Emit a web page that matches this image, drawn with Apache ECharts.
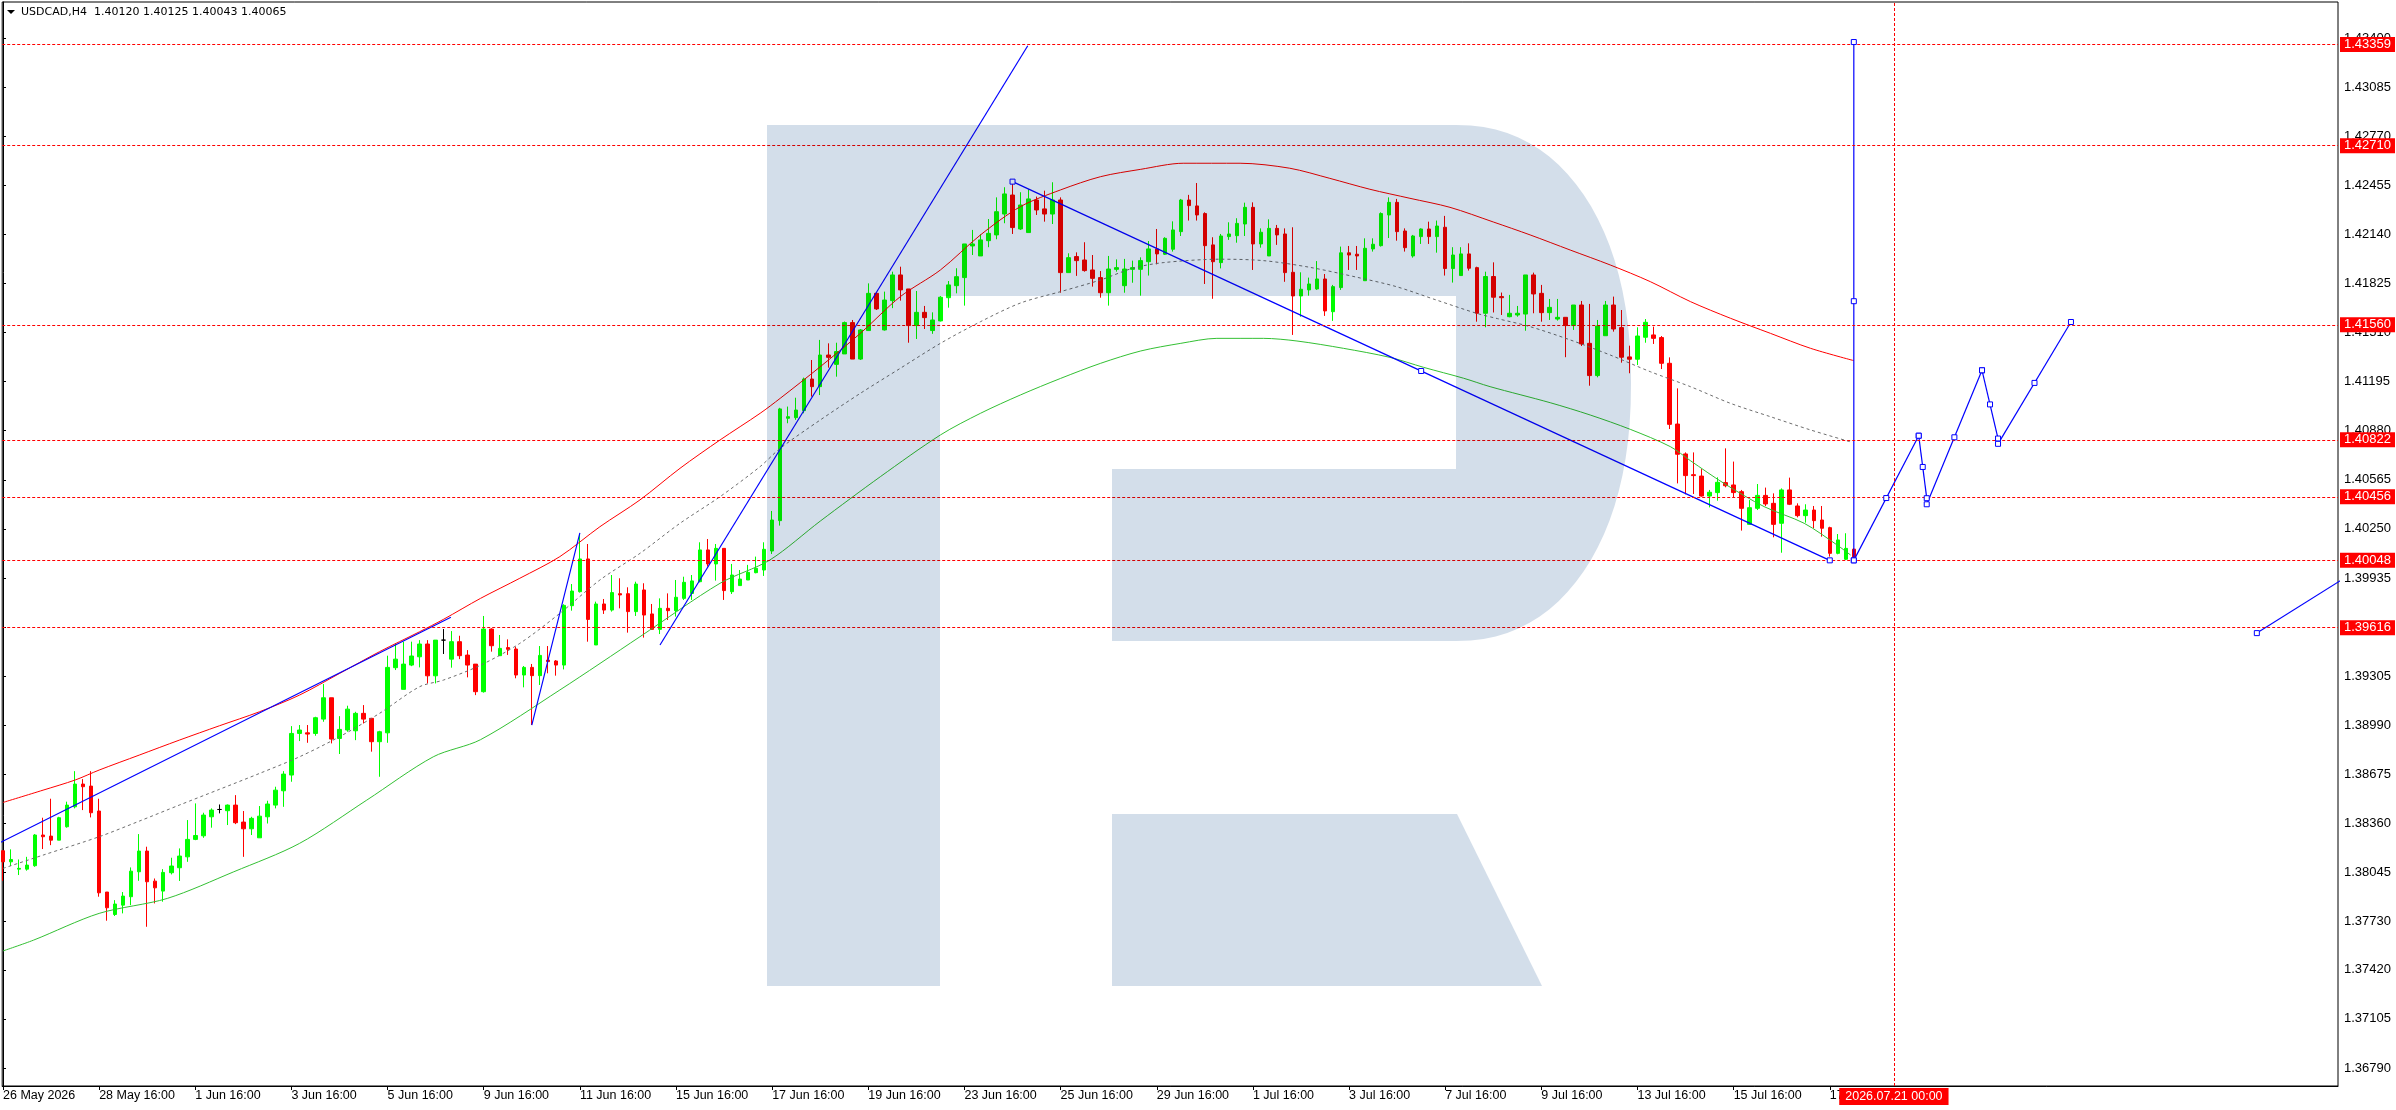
<!DOCTYPE html>
<html>
<head>
<meta charset="utf-8">
<title>USDCAD,H4</title>
<script src="https://cdn.jsdelivr.net/npm/echarts@6.0.0/dist/echarts.min.js"></script>
<style>
html, body { margin: 0; padding: 0; background: #fff; }
#chart { width: 2396px; height: 1110px; }
</style>
</head>
<body>
<div id="chart"></div>
<script>
// ---- data (H4 bars, index 0 = 26 May 16:00) ----
var symbolName = 'USDCAD,H4';

var opens = [
1.38184,1.38113,1.38066,1.38066,1.38088,1.38285,1.38278,1.38252,1.38338,1.38466,
1.38612,1.38599,1.38439,1.37919,1.37775,1.37835,1.37889,1.38049,1.38182,1.37989,
1.37925,1.38043,1.38075,1.38145,1.38257,1.38280,1.38402,1.38449,1.38441,1.38477,
1.38368,1.38325,1.38267,1.38402,1.38477,1.38569,1.38670,1.38937,1.38941,1.38937,
1.39029,1.39166,1.38905,1.38959,1.38954,1.39066,1.39034,1.38884,1.38941,1.39359,
1.39220,1.39376,1.39429,1.39511,1.39307,1.39536,1.39414,1.39526,1.39440,1.39382,
1.39205,1.39607,1.39436,1.39488,1.39479,1.39312,1.39361,1.39308,1.39408,1.39402,
1.39376,1.39757,1.39847,1.40057,1.39505,1.39768,1.39729,1.39834,1.39834,1.39719,
1.39858,1.39704,1.39605,1.39740,1.39725,1.39804,1.39836,1.39911,1.40115,1.40025,
1.40125,1.39847,1.39886,1.39922,1.39969,1.39986,1.40108,1.40303,1.40960,1.40964,
1.41009,1.41212,1.41163,1.41366,1.41306,1.41373,1.41574,1.41340,1.41523,1.41762,
1.41527,1.41715,1.41880,1.41790,1.41555,1.41640,1.41523,1.41585,1.41734,1.41811,
1.41863,1.42066,1.42002,1.42100,1.42137,1.42271,1.42393,1.42175,1.42152,1.42361,
1.42304,1.42271,1.42361,1.41895,1.41998,1.41976,1.41912,1.41863,1.41766,1.41916,
1.41811,1.41916,1.41916,1.41965,1.42047,1.42013,1.42045,1.42158,1.42361,1.42323,
1.42274,1.42073,1.41959,1.42126,1.42132,1.42207,1.42314,1.42079,1.42002,1.42179,
1.42143,1.41897,1.41745,1.41784,1.41790,1.41854,1.41644,1.41799,1.42022,1.42013,
1.41843,1.42047,1.42068,1.42265,1.42346,1.42162,1.42002,1.42126,1.42175,1.42126,
1.42186,1.41921,1.41876,1.42015,1.41927,1.41634,1.41870,1.41741,1.41612,1.41623,
1.41629,1.41880,1.41762,1.41638,1.41597,1.41608,1.41555,1.41687,1.41441,1.41234,
1.41490,1.41687,1.41542,1.41354,1.41339,1.41480,1.41495,1.41478,1.41313,1.40923,
1.40731,1.40598,1.40589,1.40461,1.40483,1.40547,1.40532,1.40489,1.40279,1.40382,
1.40465,1.40414,1.40286,1.40500,1.40397,1.40335,1.40371,1.40307,1.40258,1.40093,
1.40055,1.40120
];
var highs = [
1.38188,1.38193,1.38128,1.38145,1.38291,1.38396,1.38518,1.38402,1.38499,1.38695,
1.38644,1.38695,1.38518,1.37919,1.37867,1.37919,1.38077,1.38291,1.38210,1.38006,
1.38066,1.38139,1.38199,1.38381,1.38488,1.38428,1.38456,1.38481,1.38481,1.38541,
1.38439,1.38402,1.38471,1.38505,1.38595,1.38695,1.38984,1.38991,1.38991,1.39044,
1.39254,1.39166,1.39048,1.39115,1.39076,1.39119,1.39034,1.38954,1.39436,1.39515,
1.39526,1.39526,1.39536,1.39536,1.39536,1.39607,1.39594,1.39564,1.39472,1.39382,
1.39691,1.39612,1.39569,1.39541,1.39494,1.39370,1.39383,1.39498,1.39498,1.39408,
1.39766,1.39896,1.40217,1.40153,1.39783,1.39800,1.39954,1.39933,1.39875,1.39911,
1.39901,1.39768,1.39804,1.39836,1.39922,1.39943,1.39954,1.40164,1.40185,1.40153,
1.40125,1.40025,1.39986,1.40019,1.40072,1.40164,1.40365,1.41027,1.41035,1.41092,
1.41221,1.41334,1.41463,1.41441,1.41445,1.41581,1.41591,1.41533,1.41826,1.41766,
1.41773,1.41901,1.41933,1.41790,1.41777,1.41681,1.41640,1.41745,1.41841,1.41923,
1.42079,1.42169,1.42141,1.42239,1.42378,1.42443,1.42479,1.42411,1.42430,1.42383,
1.42421,1.42475,1.42378,1.42019,1.42025,1.42090,1.42008,1.41905,1.42002,1.41980,
1.41983,1.41972,1.41993,1.42098,1.42175,1.42122,1.42224,1.42368,1.42394,1.42470,
1.42282,1.42122,1.42143,1.42218,1.42244,1.42344,1.42346,1.42179,1.42237,1.42201,
1.42179,1.42186,1.41897,1.41863,1.41969,1.41886,1.41816,1.42062,1.42066,1.42066,
1.42115,1.42115,1.42282,1.42378,1.42368,1.42179,1.42137,1.42179,1.42222,1.42229,
1.42259,1.42058,1.42058,1.42083,1.41933,1.41901,1.41961,1.41767,1.41752,1.41681,
1.41880,1.41895,1.41816,1.41726,1.41726,1.41608,1.41687,1.41713,1.41694,1.41591,
1.41713,1.41741,1.41655,1.41426,1.41544,1.41597,1.41548,1.41488,1.41351,1.41152,
1.40741,1.40741,1.40634,1.40500,1.40581,1.40767,1.40682,1.40500,1.40435,1.40538,
1.40515,1.40478,1.40510,1.40579,1.40414,1.40408,1.40397,1.40397,1.40264,1.40217,
1.40222,1.40125
];
var lows = [
1.37991,1.38086,1.38028,1.38056,1.38081,1.38195,1.38220,1.38252,1.38332,1.38456,
1.38445,1.38398,1.37889,1.37735,1.37765,1.37782,1.37835,1.37991,1.37696,1.37846,
1.37857,1.38032,1.37990,1.38113,1.38252,1.38267,1.38332,1.38424,1.38349,1.38355,
1.38145,1.38285,1.38267,1.38359,1.38456,1.38466,1.38627,1.38888,1.38877,1.38922,
1.39012,1.38873,1.38805,1.38948,1.38894,1.39001,1.38820,1.38659,1.38877,1.39344,
1.39220,1.39369,1.39361,1.39258,1.39258,1.39447,1.39359,1.39414,1.39297,1.39183,
1.39199,1.39462,1.39436,1.39441,1.39291,1.39233,1.38991,1.39248,1.39323,1.39308,
1.39348,1.39725,1.39841,1.39526,1.39505,1.39704,1.39719,1.39740,1.39584,1.39691,
1.39552,1.39601,1.39575,1.39665,1.39687,1.39794,1.39794,1.39907,1.40008,1.39918,
1.39794,1.39832,1.39886,1.39922,1.39965,1.39948,1.40089,1.40271,1.40928,1.40950,
1.40992,1.41099,1.41109,1.41285,1.41227,1.41373,1.41340,1.41334,1.41523,1.41655,
1.41523,1.41667,1.41715,1.41445,1.41469,1.41533,1.41502,1.41581,1.41670,1.41762,
1.41683,1.42008,1.42002,1.42058,1.42109,1.42212,1.42143,1.42169,1.42152,1.42265,
1.42222,1.42207,1.41766,1.41895,1.41874,1.41901,1.41805,1.41734,1.41683,1.41901,
1.41766,1.41830,1.41747,1.41876,1.41948,1.42008,1.42030,1.42130,1.42229,1.42229,
1.41822,1.41727,1.41922,1.42105,1.42087,1.42130,1.41912,1.42055,1.42002,1.42073,
1.41836,1.41495,1.41612,1.41747,1.41784,1.41617,1.41585,1.41784,1.41912,1.41912,
1.41843,1.42030,1.42062,1.42117,1.42100,1.42030,1.41991,1.42079,1.42079,1.42023,
1.41876,1.41831,1.41876,1.41908,1.41580,1.41544,1.41639,1.41623,1.41608,1.41612,
1.41522,1.41634,1.41580,1.41591,1.41587,1.41352,1.41527,1.41424,1.41169,1.41223,
1.41490,1.41516,1.41317,1.41249,1.41302,1.41445,1.41437,1.41276,1.40891,1.40542,
1.40472,1.40474,1.40457,1.40388,1.40431,1.40517,1.40453,1.40239,1.40275,1.40371,
1.40397,1.40196,1.40097,1.40403,1.40324,1.40290,1.40254,1.40200,1.40072,1.40087,
1.40050,1.40043
];
var closes = [
1.38113,1.38128,1.38071,1.38092,1.38285,1.38274,1.38252,1.38396,1.38477,1.38612,
1.38595,1.38428,1.37914,1.37818,1.37842,1.37893,1.38053,1.38182,1.37985,1.37946,
1.38045,1.38086,1.38150,1.38257,1.38282,1.38413,1.38445,1.38449,1.38477,1.38364,
1.38325,1.38392,1.38406,1.38484,1.38573,1.38676,1.38937,1.38959,1.38933,1.39038,
1.39166,1.38901,1.38963,1.39093,1.39066,1.39029,1.38884,1.38948,1.39361,1.39414,
1.39382,1.39434,1.39511,1.39307,1.39536,1.39536,1.39526,1.39436,1.39376,1.39205,
1.39607,1.39500,1.39483,1.39477,1.39312,1.39361,1.39308,1.39438,1.39398,1.39376,
1.39759,1.39851,1.40057,1.39669,1.39768,1.39729,1.39841,1.39826,1.39719,1.39896,
1.39697,1.39605,1.39740,1.39725,1.39811,1.39907,1.39916,1.40115,1.40025,1.40125,
1.39854,1.39954,1.39928,1.39971,1.39997,1.40119,1.40307,1.41020,1.40970,1.41013,
1.41212,1.41163,1.41366,1.41351,1.41388,1.41574,1.41340,1.41527,1.41762,1.41662,
1.41719,1.41880,1.41784,1.41555,1.41640,1.41606,1.41591,1.41737,1.41816,1.41869,
1.42079,1.42079,1.42105,1.42147,1.42286,1.42400,1.42184,1.42329,1.42368,1.42297,
1.42271,1.42361,1.41895,1.41991,1.41972,1.41908,1.41858,1.41766,1.41918,1.41927,
1.41918,1.41927,1.41972,1.42047,1.42015,1.42115,1.42169,1.42361,1.42325,1.42265,
1.42068,1.41965,1.42130,1.42143,1.42211,1.42314,1.42079,1.42154,1.42179,1.42137,
1.41895,1.41745,1.41788,1.41822,1.41854,1.41649,1.41805,1.42022,1.42008,1.42002,
1.42051,1.42077,1.42274,1.42346,1.42158,1.42055,1.42130,1.42175,1.42126,1.42194,
1.41921,1.42008,1.42015,1.41923,1.41634,1.41870,1.41737,1.41734,1.41634,1.41634,
1.41880,1.41758,1.41638,1.41672,1.41608,1.41555,1.41687,1.41437,1.41234,1.41552,
1.41687,1.41533,1.41352,1.41339,1.41488,1.41576,1.41473,1.41313,1.40921,1.40729,
1.40592,1.40592,1.40461,1.40485,1.40549,1.40527,1.40483,1.40382,1.40386,1.40465,
1.40410,1.40279,1.40500,1.40408,1.40335,1.40371,1.40303,1.40254,1.40093,1.40179,
1.40125,1.40065
];

// moving averages, sampled [bar index, price]
var maRed = [[0,1.38494],[5,1.38573],[9,1.38638],[12,1.38702],[17,1.38798],[22,1.38894],[27,1.38986],[32,1.39076],
  [37,1.39183],[42,1.39322],[47,1.39462],[52,1.39590],[55,1.39670],[59.6,1.39804],[64.5,1.39933],[69.5,1.40072],
  [74.5,1.40264],[79.5,1.40436],[84.5,1.40639],[89.5,1.40821],[94.5,1.40992],[97,1.41088],[102,1.41291],[107,1.41505],
  [112,1.41741],[117,1.41912],[122,1.42137],[127,1.42319],[132,1.42426],[137,1.42511],[142,1.42558],[147.3,1.42597],
  [154.4,1.42597],[160.6,1.42565],[165.6,1.42500],[170.6,1.42430],[175.6,1.42372],[180.6,1.42314],[186,1.42220],
  [190.6,1.42137],[195.6,1.42040],[200.6,1.41944],[205.6,1.41837],[210.6,1.41709],[215.6,1.41602],[220.6,1.41505],
  [225.6,1.41409],[231,1.41330]];
var maGreen = [[0,1.37541],[3.8,1.37610],[12,1.37782],[20.5,1.37878],[28.8,1.38049],[37,1.38231],[45.4,1.38509],
  [53.7,1.38787],[59.6,1.38897],[69.5,1.39216],[79.5,1.39558],[89.5,1.39901],[95.7,1.40050],[102,1.40300],
  [109.5,1.40585],[117,1.40853],[122,1.40992],[127,1.41110],[132,1.41216],[137,1.41313],[142,1.41392],[147,1.41441],
  [151.5,1.41473],[157.3,1.41473],[161.5,1.41456],[167.3,1.41409],[173.1,1.41351],[177.3,1.41287],[182.3,1.41217],
  [185.6,1.41163],[193.1,1.41060],[198.1,1.40981],[203.1,1.40889],[208.1,1.40778],[210.6,1.40688],[214.8,1.40542],
  [219.8,1.40393],[224.8,1.40286],[228.9,1.40147],[230.6,1.40082]];
var maGray = [[0,1.38071],[5,1.38156],[12,1.38274],[17,1.38374],[22,1.38477],[27,1.38578],[32,1.38680],[37,1.38787],
  [42,1.38916],[47,1.39066],[52,1.39237],[55,1.39280],[59.6,1.39375],[64.5,1.39515],[69.5,1.39708],[74.5,1.39922],
  [79.5,1.40093],[84.5,1.40286],[89.5,1.40457],[94.5,1.40650],[97,1.40767],[102,1.40949],[107,1.41120],[112,1.41281],
  [117,1.41441],[122,1.41580],[127,1.41700],[132,1.41773],[137,1.41848],[141,1.41923],[144.8,1.41959],[151.9,1.41981],
  [157.3,1.41972],[163.1,1.41929],[169,1.41865],[173.9,1.41805],[178.9,1.41719],[183.9,1.41634],[186.5,1.41600],
  [190.6,1.41548],[195.6,1.41463],[200.6,1.41366],[205.6,1.41259],[210.6,1.41163],[215.6,1.41056],[220.6,1.40970],
  [225.6,1.40885],[230.5,1.40810]];

// trend lines [[barFrom, priceFrom], [barTo, priceTo]]; selected ones show their handles
var trendLines = [
  [[-2, 1.38194], [55.9, 1.39683]],
  [[66, 1.38991], [72, 1.40225]],
  [[82, 1.39505], [127.9, 1.43351]],
  [[126, 1.42479], [228, 1.40048]],
  [[231, 1.40048], [231, 1.43375]],
  [[231, 1.40048], [239.1, 1.40848]],
  [[239.1, 1.40848], [240.1, 1.40447]],
  [[240.1, 1.40408], [247, 1.41268]],
  [[247, 1.41268], [249, 1.40830]],
  [[249, 1.40796], [258.1, 1.41578]],
  [[281.3, 1.39581], [305, 1.40347]]
];
var selectedLines = [false, false, false, true, true, true, true, true, true, true, true];

var levelPrices = [1.43359, 1.42710, 1.41560, 1.40822, 1.40456, 1.40048, 1.39616];
var bidPrice = 1.40065;
var markBar = 236;
var markBarText = '2026.07.21 00:00';

var xTickBars = [0, 12, 24, 36, 48, 60, 72, 84, 96, 108, 120, 132, 144, 156, 168, 180, 192, 204, 216, 228];
var xTickText = ['26 May 2026', '28 May 16:00', '1 Jun 16:00', '3 Jun 16:00', '5 Jun 16:00', '9 Jun 16:00',
  '11 Jun 16:00', '15 Jun 16:00', '17 Jun 16:00', '19 Jun 16:00', '23 Jun 16:00', '25 Jun 16:00', '29 Jun 16:00',
  '1 Jul 16:00', '3 Jul 16:00', '7 Jul 16:00', '9 Jul 16:00', '13 Jul 16:00', '15 Jul 16:00', '17 Jul 16:00'];
var yTickText = ['1.36790', '1.37105', '1.37420', '1.37730', '1.38045', '1.38360', '1.38675', '1.38990', '1.39305',
  '1.39620', '1.39935', '1.40250', '1.40565', '1.40880', '1.41195', '1.41510', '1.41825', '1.42140', '1.42455',
  '1.42770', '1.43085', '1.43400'];

// ---- chart ----
var chart = echarts.init(document.getElementById('chart'));
var FONT = 'Liberation Sans, Arial, sans-serif';

var candles = opens.map(function (o, i) { return [i, o, closes[i], lows[i], highs[i]]; });
var last = opens.length - 1;
var headerText = symbolName + '  ' + opens[last].toFixed(5) + ' ' + highs[last].toFixed(5) + ' ' +
  lows[last].toFixed(5) + ' ' + closes[last].toFixed(5);

var handles = [];
trendLines.forEach(function (seg, k) {
  if (!selectedLines[k]) return;
  handles.push(seg[0], seg[1], [(seg[0][0] + seg[1][0]) / 2, (seg[0][1] + seg[1][1]) / 2]);
});

// logo watermark (R)
var logoArc = [];
for (var k = 0; k <= 48; k++) {
  var t = Math.PI / 2 - Math.PI * k / 48;
  var c = Math.cos(t), s = Math.sin(t), e = 2 / 2.2;
  logoArc.push([1456 + 175 * Math.pow(Math.abs(c), e), 383 - 258 * (s < 0 ? -1 : 1) * Math.pow(Math.abs(s), e)]);
}
var logoBody = [[767, 125]].concat(logoArc).concat([[1112, 641], [1112, 469], [1456, 469], [1456, 296], [940, 296], [940, 986], [767, 986]]);
var logoLeg = [[1112, 814], [1457, 814], [1542, 986], [1112, 986]];

var series = [{
  type: 'candlestick',
  data: candles,
  barWidth: 4,
  z: 2,
  itemStyle: {
    color: '#00ff00', color0: '#ff0000',
    borderColor: '#00ff00', borderColor0: '#ff0000', borderColorDoji: '#000000',
    borderWidth: 1
  },
  markLine: {
    silent: true,
    symbol: ['none', 'none'],
    animation: false,
    precision: 5,
    lineStyle: { color: '#ff0000', type: [3, 2], width: 1 },
    label: {
      show: true, position: 'end', distance: 2,
      color: '#ffffff', backgroundColor: '#ff0000',
      fontFamily: FONT, fontSize: 13, lineHeight: 13, padding: [1, 4, 1, 4],
      formatter: function (p) { return Number(p.value).toFixed(5); }
    },
    data: [{ yAxis: bidPrice, lineStyle: { opacity: 0 }, label: { backgroundColor: '#000000' } }]
      .concat(levelPrices.map(function (v) { return { yAxis: v }; }))
      .concat([{ xAxis: markBar, label: { position: 'start', distance: 2, fontSize: 12.5, padding: [2, 6, 2, 6], formatter: markBarText } }])
  }
}];

[[maRed, '#ff0000', 'solid'], [maGreen, '#33c033', 'solid'], [maGray, '#6e6e6e', [3, 3]]].forEach(function (m) {
  series.push({
    type: 'line', data: m[0], smooth: 0.3, symbol: 'none', z: 3, silent: true,
    lineStyle: { color: m[1], width: 1, type: m[2] }
  });
});

trendLines.forEach(function (seg) {
  series.push({
    type: 'line', data: seg, symbol: 'none', z: 4, silent: true,
    lineStyle: { color: '#0000ff', width: 1.2 }
  });
});

series.push({
  type: 'scatter', data: handles, symbol: 'rect', symbolSize: 5, z: 5, silent: true,
  itemStyle: { color: '#ffffff', borderColor: '#0000ff', borderWidth: 1, opacity: 1 }
});

chart.setOption({
  animation: false,
  backgroundColor: '#ffffff',
  grid: { left: 2, right: 58, top: 2, bottom: 24, show: true, borderColor: '#000000', borderWidth: 1 },
  xAxis: {
    type: 'value', min: -0.1, max: 291.43,
    axisLine: { show: true, lineStyle: { color: '#000000' } },
    axisTick: { show: true, customValues: xTickBars, length: 4, lineStyle: { color: '#000000' } },
    axisLabel: {
      customValues: xTickBars, align: 'left', margin: 3, color: '#000000',
      fontFamily: FONT, fontSize: 12.5,
      formatter: function (v) { var j = xTickBars.indexOf(Math.round(v)); return j < 0 ? '' : xTickText[j]; }
    },
    splitLine: { show: false }
  },
  yAxis: {
    type: 'value', position: 'right', min: 1.36674, max: 1.43632,
    axisLine: { show: true, lineStyle: { color: '#000000' } },
    axisTick: { show: true, customValues: yTickText.map(Number), length: 3, lineStyle: { color: '#000000' } },
    axisLabel: {
      customValues: yTickText.map(Number), margin: 6, color: '#000000',
      fontFamily: FONT, fontSize: 13,
      formatter: function (v) { return v.toFixed(5); }
    },
    splitLine: { show: false }
  },
  graphic: [
    { type: 'polygon', silent: true, z: 100, shape: { points: logoBody }, style: { fill: '#d3deea', blend: 'multiply' } },
    { type: 'polygon', silent: true, z: 100, shape: { points: logoLeg }, style: { fill: '#d3deea', blend: 'multiply' } },
    { type: 'polygon', silent: true, z: 101, shape: { points: [[7, 10], [15, 10], [11, 14]] }, style: { fill: '#000000' } },
    { type: 'text', silent: true, z: 101, x: 21, y: 12,
      style: { text: headerText, fill: '#000000', fontFamily: 'DejaVu Sans', fontSize: 11, verticalAlign: 'middle' } }
  ],
  series: series
});
</script>
</body>
</html>
